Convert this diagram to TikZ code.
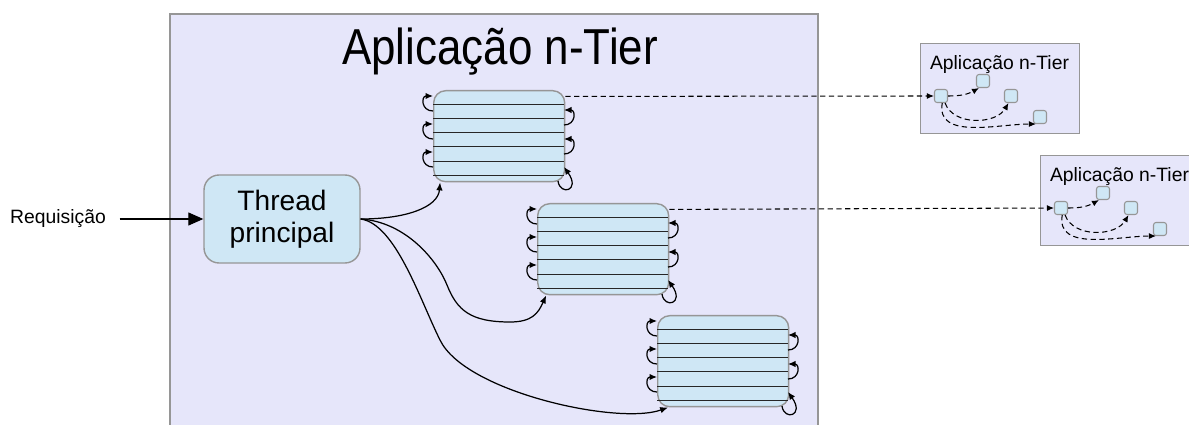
\documentclass[tikz,border=0pt]{standalone}
\usepackage{fontspec}
\setmainfont{Liberation Sans}
\usetikzlibrary{arrows.meta}

\definecolor{lavanda}{RGB}{230,230,250}
\definecolor{azulclaro}{RGB}{207,231,245}
\definecolor{borda}{RGB}{150,150,150}

\begin{document}
\begin{tikzpicture}[x=0.02cm,y=0.02cm,
  caixa/.style={draw=borda,fill=azulclaro,line width=0.8pt,rounded corners=0.3cm,inner sep=0pt},
  pool/.style={caixa,minimum width=2.62cm,minimum height=1.82cm,rounded corners=0.24cm},
  mini/.style={caixa,line width=0.6pt,minimum size=0.26cm,rounded corners=0.05cm},
  app/.style={draw=borda,fill=lavanda,line width=0.8pt,inner sep=0pt,minimum width=3.18cm,minimum height=1.8cm},
  listra/.style={black!85,line width=0.55pt},
  laco/.style={-{Latex[length=1.5mm,width=1.3mm]},line width=0.7pt},
  fluxo/.style={-{Latex[length=1.6mm,width=1.3mm]},line width=0.7pt},
  remoto/.style={-{Latex[length=1.4mm,width=1.2mm]},line width=0.6pt,dash pattern=on 3pt off 2pt}]

	\useasboundingbox (0,0) rectangle (1189,-425);

  % aplicacao principal
	\draw[draw=borda,fill=lavanda,line width=0.8pt] (170,-14) rectangle (818,-432);
	\node[font=\fontsize{25}{30}\selectfont,anchor=base] (titulo) at (500,-65) {\scalebox{1}[1.15]{Aplicação n-Tier}};

  % thread principal
	\node[caixa,minimum width=3.12cm,minimum height=1.76cm,align=center,font=\fontsize{16}{18}\selectfont] (thread) at (282,-219) {Thread\\principal};
	\node[font=\fontsize{11}{13}\selectfont] (req) at (58,-219) {Requisição};
	\draw[-{Triangle[length=0.3cm,width=0.26cm]},line width=0.6pt,shorten <=0.15cm] (req.east) -- (thread.west);

  % pools de threads
	\foreach \i/\px/\py in {1/433/90,2/537/203,3/657/315}{
	  \begin{scope}[shift={(\px,-\py)}]
		\node[pool,anchor=north west] (pool\i) at (0,0) {};
		\foreach \k in {1,...,6}
			\draw[listra] (0,-14.2*\k) -- (131,-14.2*\k);
		\foreach \k in {0,1,2}
			\draw[laco] (0,-21-28*\k) .. controls (-12,-21-28*\k) and (-12,-6-28*\k) .. (0,-6-28*\k);
		\foreach \k in {0,1}
			\draw[laco] (131,-35-29*\k) .. controls (143,-35-29*\k) and (143,-20-29*\k) .. (131,-20-29*\k);
		\draw[laco] (125,-91) .. controls (127,-106) and (148,-101) .. (131,-77);
	  \end{scope}
	}

  % requisicoes para os pools
	\draw[fluxo] (thread.east) .. controls +(45,0) and +(-2,-25) .. (pool1.-142);
	\draw[fluxo] (thread.east) .. controls +(45,-3) and +(-10,25) .. (447,-285)
		.. controls +(10,-25) and +(-40,0) .. (510,-322)
		.. controls +(22,0) and +(-8,-18) .. (pool2.-141);
	\draw[fluxo] (thread.east) .. controls +(35,-5) and +(-20,40) .. (440,-340)
		.. controls +(25,-52) and +(-50,-18) .. (pool3.-140);

  % aplicacoes remotas
	\foreach \j/\dx/\dy in {1/920/43,2/1040/155}{
	  \begin{scope}[shift={(\dx,-\dy)}]
		\node[app,anchor=north west] (app\j) at (0,0) {};
		\node[font=\fontsize{11}{13}\selectfont,anchor=base] (titulo\j) at (79.5,-27) {Aplicação n-Tier};
		\node[mini] (ma\j) at (21,-53) {};
		\node[mini] (mb\j) at (63,-38) {};
		\node[mini] (mc\j) at (91,-53) {};
		\node[mini] (md\j) at (120,-74) {};
		\draw[remoto] (ma\j.east) to[bend right=15] (mb\j.-120);
		\draw[remoto] (ma\j.-60) to[out=-70,in=-120] (mc\j.-110);
		\draw[remoto] (ma\j.-80) to[out=-100,in=180] (md\j.-120);
	  \end{scope}
	}
	\draw[remoto] (pool1.31) -- (ma1.west);
	\draw[remoto] (pool2.31) -- (ma2.west);

\end{tikzpicture}
\end{document}
